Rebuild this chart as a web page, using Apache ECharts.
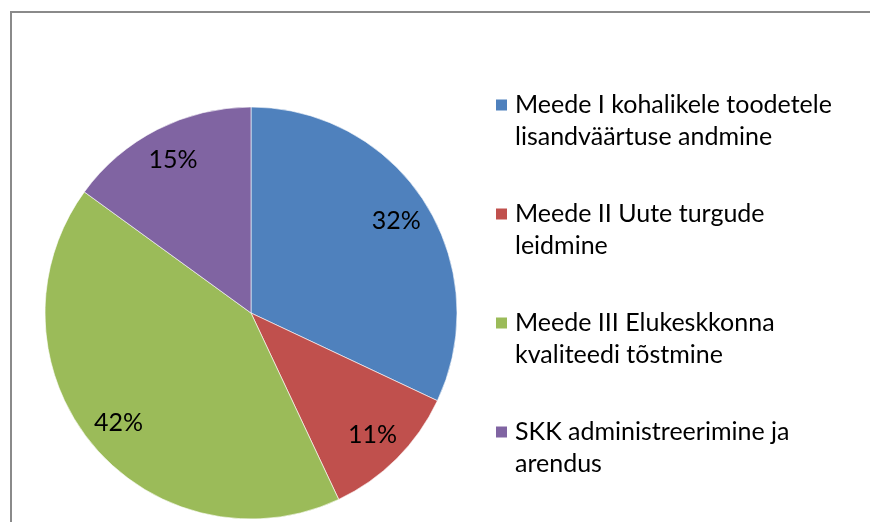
<!DOCTYPE html>
<html>
<head>
<meta charset="utf-8">
<script src="https://cdn.jsdelivr.net/npm/echarts@6/dist/echarts.min.js"></script>
<style>
  html, body { margin: 0; padding: 0; background: #fff; }
  #chart { position: absolute; left: 0; top: 0; width: 870px; height: 522px; }
  .frame {
    position: absolute; left: 10px; top: 11px; width: 900px; height: 600px;
    border-left: 2px solid #8a8a8a; border-top: 2px solid #8a8a8a;
    pointer-events: none;
  }
</style>
</head>
<body>
<div class="frame"></div>
<div id="chart"></div>
<script>
// share of funding per measure, %
const categories = [
  'Meede I kohalikele toodetele\nlisandväärtuse andmine',
  'Meede II Uute turgude\nleidmine',
  'Meede III Elukeskkonna\nkvaliteedi tõstmine',
  'SKK administreerimine ja\narendus'
]
const shares = [32, 11, 42, 15]
const colors = ['#4F81BD', '#C0504D', '#9BBB59', '#8064A2']

const FONT = 'Lato'
const FONT_SIZE = 25
const LINE_H = 32

const pieData = categories.map((name, i) => ({
  name: name,
  value: shares[i],
  itemStyle: { color: colors[i] }
}))

const chart = echarts.init(document.getElementById('chart'))

chart.setOption({
  animation: false,
  color: colors,
  legend: {
    orient: 'vertical',
    left: 494,
    top: 57,
    padding: 0,
    itemWidth: 13,
    itemGap: 13,
    itemHeight: 13,
    icon: 'rect',
    selectedMode: false,
    data: categories,
    // blank first line so the icon sits level with the first text line
    formatter: name => ' \n' + name,
    textStyle: {
      fontFamily: FONT,
      fontSize: FONT_SIZE,
      lineHeight: LINE_H,
      color: '#000',
      padding: [0, 0, 0, 2]
    }
  },
  series: [
    {
      // the pie itself
      type: 'pie',
      center: [251, 313],
      radius: [0, 206],
      startAngle: 90,
      clockwise: true,
      silent: true,
      label: { show: false },
      labelLine: { show: false },
      itemStyle: { borderColor: '#ffffff', borderWidth: 0.6 },
      data: pieData
    },
    {
      // invisible ring only to carry the % labels near the rim
      type: 'pie',
      center: [251, 313],
      radius: [132, 206],
      startAngle: 90,
      clockwise: true,
      silent: true,
      itemStyle: { color: 'rgba(0,0,0,0)' },
      label: {
        show: true,
        position: 'inside',
        formatter: '{c}%',
        fontFamily: FONT,
        fontSize: FONT_SIZE,
        color: '#000'
      },
      labelLine: { show: false },
      data: categories.map((name, i) => ({ name: name, value: shares[i] }))
    }
  ]
})
</script>
</body>
</html>
